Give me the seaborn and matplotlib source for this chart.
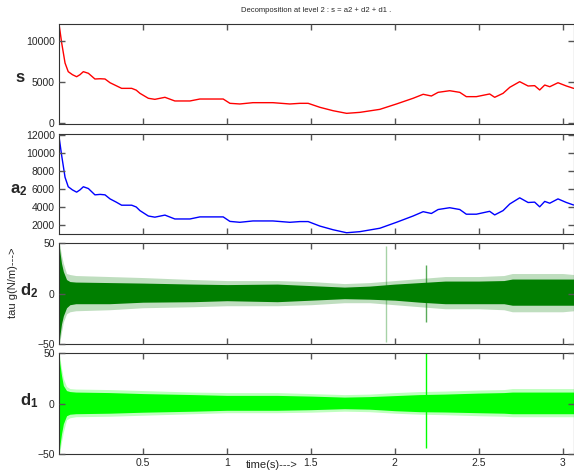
import numpy as np
import pandas as pd
import seaborn as sns
import matplotlib
matplotlib.use("Agg")
import matplotlib.pyplot as plt

# --- approximation s and a2 ---
t_s = [0, 0.001, 0.016, 0.036, 0.055, 0.08, 0.105, 0.125, 0.145, 0.175,
       0.214, 0.245, 0.274, 0.304, 0.34, 0.373, 0.433, 0.46, 0.482, 0.532,
       0.571, 0.631, 0.69, 0.78, 0.839, 0.978, 1.018, 1.077, 1.155, 1.274,
       1.375, 1.435, 1.484, 1.554, 1.633, 1.713, 1.792, 1.911, 2.010, 2.109,
       2.169, 2.218, 2.258, 2.327, 2.387, 2.426, 2.486, 2.565, 2.595, 2.645,
       2.685, 2.744, 2.794, 2.833, 2.863, 2.893, 2.923, 2.972, 3.022, 3.065]
s_vals = [0, 12000, 9800, 7330, 6270, 5900, 5650, 5900, 6270, 6070,
          5370, 5400, 5370, 4910, 4550, 4220, 4220, 4000, 3610, 3000,
          2870, 3120, 2670, 2670, 2910, 2910, 2380, 2300, 2460, 2460,
          2300, 2380, 2380, 1890, 1470, 1150, 1270, 1640, 2300, 3000,
          3490, 3280, 3730, 3930, 3730, 3200, 3200, 3530, 3120, 3610,
          4350, 5040, 4510, 4550, 4020, 4630, 4420, 4910, 4510, 4220]

t_a2 = t_s[1:]
a2_vals = [11700, 9700, 7300, 6250, 5900, 5650, 5900, 6250, 6050,
           5350, 5400, 5350, 4900, 4550, 4200, 4200, 4000, 3600, 3000,
           2870, 3100, 2670, 2670, 2900, 2900, 2400, 2300, 2450, 2450,
           2300, 2380, 2380, 1880, 1470, 1140, 1260, 1640, 2300, 3000,
           3480, 3280, 3720, 3920, 3720, 3200, 3200, 3520, 3120, 3600,
           4340, 5020, 4500, 4540, 4020, 4620, 4420, 4900, 4500, 4220]

# --- details d2 / d1: envelope of the dense oscillation ---
t_env = [0, 0.005, 0.015, 0.026, 0.045, 0.065, 0.1, 0.3, 0.5, 0.8, 1.0, 1.3,
         1.5, 1.7, 1.85, 2.0, 2.15, 2.3, 2.5, 2.65, 2.7, 3.0, 3.065]
d2_core_hi = [50, 42, 30, 22, 14, 12, 11.5, 11, 10.5, 9.5, 9, 9.5,
              8, 6.5, 7.5, 9.5, 11, 12.5, 12.5, 13, 14.5, 14.5, 14.5]
d2_core_lo = [-50, -42, -30, -22, -14, -11, -10, -10, -8.5, -8, -7, -8,
              -6.5, -5, -5.5, -6.5, -8.5, -10, -10, -10, -11.5, -11.5, -11.5]
d2_peak_hi = [50, 48, 38, 30, 20, 19, 18, 17, 16, 14, 13, 13,
              12, 10, 11, 13, 15, 17, 17, 18, 20, 20, 19]
d2_peak_lo = [-50, -48, -38, -28, -20, -18, -17, -16, -14, -13, -12, -12,
              -11, -9, -9, -11, -13, -15, -15, -16, -18, -18, -17]

d1_core_hi = [50, 40, 28, 18, 13, 12, 11.5, 11, 10, 9, 8.2, 8.2,
              7.5, 6.5, 7, 8, 9, 9.5, 10.5, 11, 11.5, 11.5, 11.5]
d1_core_lo = [-50, -42, -30, -20, -12, -10.5, -10, -9.5, -8.5, -7.5, -6.6, -6.6,
              -6, -5, -5.5, -7, -8, -8.3, -9, -9.5, -10, -10, -10]
d1_peak_hi = [50, 46, 35, 25, 17, 15, 14.5, 14, 13, 11.5, 11, 11,
              10, 9, 9.5, 11, 12, 12.5, 13.5, 14, 15, 15, 15]
d1_peak_lo = [-50, -48, -38, -28, -16, -14, -13, -12.5, -11.5, -10, -9, -9,
              -8.5, -7.5, -8, -9.5, -10.5, -11, -12, -12.5, -13, -13, -13]

# isolated spikes
d2_spike_t = [1.946, 2.188]
d2_spike_lo = [-47.7, -28]
d2_spike_hi = [47.6, 28]
d1_spike_t = [2.188]
d1_spike_lo = [-44]
d1_spike_hi = [50]

x_ticks = [0.5, 1, 1.5, 2, 2.5, 3]

sns.set_style("ticks")
plt.rcParams['font.family'] = ['Liberation Sans', 'DejaVu Sans']
plt.rcParams['mathtext.fontset'] = 'custom'
plt.rcParams['mathtext.bf'] = 'Liberation Sans:bold'
plt.rcParams['mathtext.rm'] = 'Liberation Sans'

fig = plt.figure(figsize=(5.74, 4.73), dpi=100)
H = 473.0
left, width = 59 / 574, (573.6 - 59) / 574
boxes = [(24.3, 124), (134, 234), (243.3, 344), (353.3, 454)]
axes = [fig.add_axes([left, (H - b) / H, width, (b - t) / H]) for t, b in boxes]
ax_s, ax_a, ax_d2, ax_d1 = axes

df_s = pd.DataFrame({'t': t_s, 'v': s_vals})
sns.lineplot(data=df_s, x='t', y='v', ax=ax_s, color='#ff0000', lw=1,
             estimator=None, sort=False)
ax_s.set_ylim(-160, 12090)
ax_s.set_yticks([0, 5000, 10000])

df_a = pd.DataFrame({'t': t_a2, 'v': a2_vals})
sns.lineplot(data=df_a, x='t', y='v', ax=ax_a, color='#0000ff', lw=1,
             estimator=None, sort=False)
ax_a.set_ylim(1000, 12110)
ax_a.set_yticks([2000, 4000, 6000, 8000, 10000, 12000])


def noise_panel(ax, color, core_hi, core_lo, peak_hi, peak_lo, sp_t, sp_lo, sp_hi, sp_alpha):
    # faint band for the sparse outliers, solid band for the dense core
    ax.fill_between(t_env, peak_lo, peak_hi, color=color, alpha=0.25, lw=0)
    ax.fill_between(t_env, core_lo, core_hi, color=color, lw=0)
    for tt, lo, hi, al in zip(sp_t, sp_lo, sp_hi, sp_alpha):
        ax.vlines(tt, lo, hi, color=color, lw=1, alpha=al)
    ax.set_ylim(-50, 50)
    ax.set_yticks([-50, 0, 50])


noise_panel(ax_d2, '#007f00', d2_core_hi, d2_core_lo, d2_peak_hi, d2_peak_lo,
            d2_spike_t, d2_spike_lo, d2_spike_hi, [0.35, 0.65])
noise_panel(ax_d1, '#00ff00', d1_core_hi, d1_core_lo, d1_peak_hi, d1_peak_lo,
            d1_spike_t, d1_spike_lo, d1_spike_hi, [1.0])

for ax in axes:
    ax.set_xlim(0, 3.065)
    ax.set_xticks(x_ticks)
    ax.set_xlabel('')
    ax.set_ylabel('')
    ax.tick_params(direction='in', top=True, right=True, length=4, width=1,
                   color='#555555', labelsize=7.5, pad=3)
    for sp in ax.spines.values():
        sp.set_visible(True)
        sp.set_color('#333333')
        sp.set_linewidth(0.8)
    if ax is not ax_d1:
        ax.tick_params(labelbottom=False)
    ax.set_axisbelow(False)

ax_d1.set_xticklabels(['0.5', '1', '1.5', '2', '2.5', '3'])

# panel names
names = [('s', 20, 78), (r'$\mathbf{a_2}$', 19, 190), (r'$\mathbf{d_2}$', 29, 291),
         (r'$\mathbf{d_1}$', 29, 401)]
for txt, px, py in names:
    fig.text(px / 574, 1 - py / H, txt, ha='center', va='center',
             fontsize=12, fontweight='bold')

fig.text(316 / 574, 1 - 10 / H, 'Decomposition at level 2 : s = a2 + d2 + d1 .',
         ha='center', va='center', fontsize=5.5)
fig.text(13 / 574, 1 - 283 / H, 'tau g(N/m)--->', rotation=90,
         ha='center', va='center', fontsize=8)
fig.text(272 / 574, 1 - 465 / H, 'time(s)--->', ha='center', va='center', fontsize=8)

fig.savefig('out.png', dpi=100)
